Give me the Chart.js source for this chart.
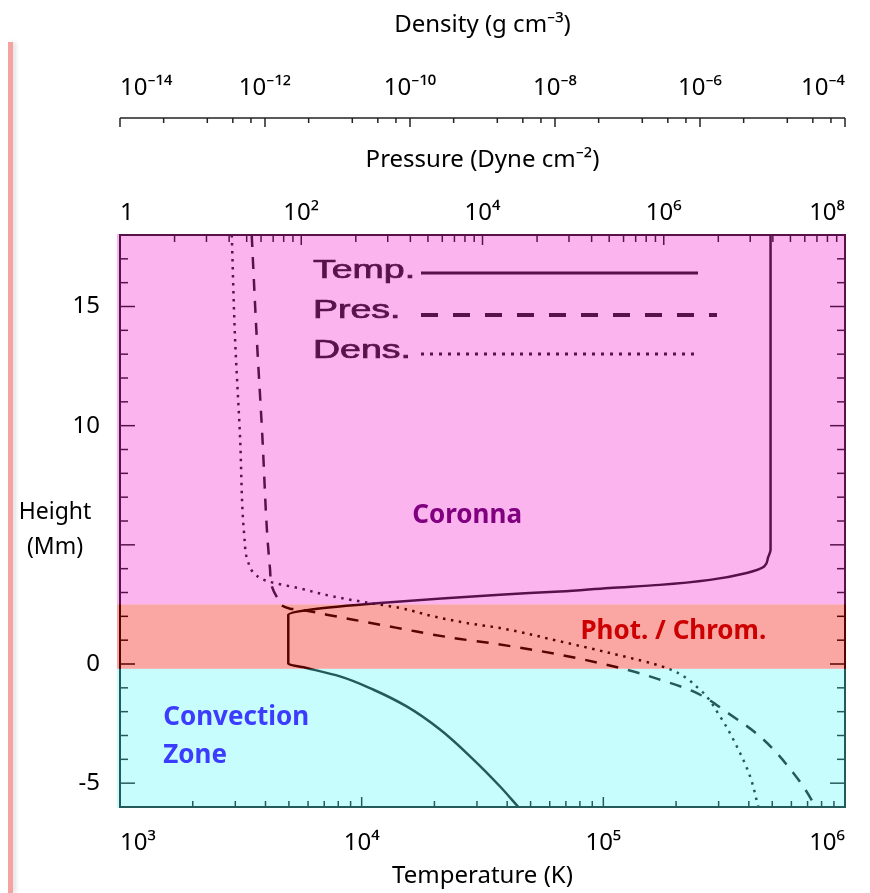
<!DOCTYPE html>
<html>
<head>
<meta charset="utf-8">
<title>Solar atmosphere profile</title>
<script src="https://cdn.jsdelivr.net/npm/chart.js@4.4.1/dist/chart.umd.min.js"></script>
<style>
  html, body { margin: 0; padding: 0; background: #fff; }
  #wrap { position: relative; width: 870px; height: 893px; }
  #edge { position: absolute; left: 8px; top: 42px; bottom: 0; width: 5px; background: #f5a3a1;
          box-shadow: 3px 0 4px rgba(0, 0, 0, 0.12); }
</style>
</head>
<body>
<div id="wrap">
  <canvas id="solarChart"></canvas>
  <div id="edge"></div>
</div>
<script>
// Curves: height in Mm, values in K, dyne cm^-2, g cm^-3
const tempHeights = [-6, -5.13, -4.01, -2.75, -1.78, -1.08, -0.52, -0.17, 0.01, 2.07, 2.28, 2.56,
                     2.91, 3.04, 3.19, 3.32, 3.53, 3.82, 4.09, 4.46, 4.79, 18];
const tempValues = [44500, 37300, 29000, 21100, 15350, 11200, 8130, 5920, 4970, 4970, 6110, 11900,
                    37300, 66100, 106000, 171000, 276000, 392000, 463000, 480000, 492000, 492000];

const presHeights = [18, 13.77, 9.57, 5.38, 4.0, 3.28, 2.70, 2.32, 2.28, 2.07, 1.86, 1.65, 1.44,
                     1.23, 1.05, 0.88, 0.39, -0.24, -0.66, -1.15, -2.05, -3.04, -4.57, -5.83, -6];
const presValues = [28.4, 32.2, 37.2, 42.2, 45.2, 47.2, 55.8, 75.2, 96.8, 191, 375, 740, 1455,
                    2864, 5650, 12100, 71600, 390000, 912000, 2.12e6, 5.08e6, 1.153e7, 2.69e7, 4.47e7, 4.67e7];

const densHeights = [18, 13.77, 9.57, 5.38, 4.29, 3.70, 3.47, 3.17, 2.83, 2.58, 2.35, 2.0, 1.72,
                     1.51, 0.95, 0.46, -0.17, -1.08, -2.20, -3.45, -4.71, -6];
const densValues = [3.48e-13, 3.85e-13, 4.52e-13, 5.18e-13, 5.83e-13, 7.69e-13, 1.10e-12, 3.04e-12,
                    8.75e-12, 2.53e-11, 7.28e-11, 2.09e-10, 6.05e-10, 1.74e-9, 1.17e-8, 5.74e-8,
                    3.48e-7, 1.0e-6, 1.89e-6, 3.21e-6, 4.90e-6, 6.37e-6];

// Tick labels
const tempTicks = [1e3, 1e4, 1e5, 1e6];
const presTicks = [1, 1e2, 1e4, 1e6, 1e8];
const densTicks = [1e-14, 1e-12, 1e-10, 1e-8, 1e-6, 1e-4];
const heightTicks = [-5, 0, 10, 15];

// Layer boundaries (Mm): convection zone / photosphere-chromosphere / corona
const bandEdges = [-6, -0.2, 2.5, 18];

const SUP = { '-': '\u207B', '0': '\u2070', '1': '\u00B9', '2': '\u00B2', '3': '\u00B3', '4': '\u2074',
              '5': '\u2075', '6': '\u2076', '7': '\u2077', '8': '\u2078', '9': '\u2079' };

function powLabel(v) {
    const e = Math.round(Math.log10(v));
    if (e === 0) return '1';
    return '10' + String(e).split('').map(c => SUP[c]).join('');
}

function toPoints(xs, ys) {
    return xs.map((x, i) => ({ x: x, y: ys[i] }));
}

function fixTicks(values) {
    return scale => { scale.ticks = values.map(v => ({ value: v })); };
}

Chart.defaults.font.family = "'Noto Sans', sans-serif";
Chart.defaults.color = '#000';

// frame, inner ticks, legend, tinted layers and layer names
const solarDecor = {
    id: 'solarDecor',
    afterDatasetsDraw(chart) {
        const { ctx, chartArea: a, scales } = chart;
        const yS = scales.y, tS = scales.xT, pS = scales.xP;
        ctx.save();
        ctx.strokeStyle = '#000';
        ctx.lineWidth = 2;
        ctx.strokeRect(a.left, a.top, a.right - a.left, a.bottom - a.top);

        ctx.lineWidth = 1.5;
        const line = (x0, y0, x1, y1) => {
            ctx.beginPath(); ctx.moveTo(x0, y0); ctx.lineTo(x1, y1); ctx.stroke();
        };

        // height ticks, both sides
        for (let h = -6; h <= 18; h++) {
            const y = yS.getPixelForValue(h);
            const len = h % 5 === 0 ? 15 : 8;
            line(a.left, y, a.left + len, y);
            line(a.right, y, a.right - len, y);
        }
        // temperature ticks, bottom
        tempTicks.forEach(v => {
            const x = tS.getPixelForValue(v);
            line(x, a.bottom, x, a.bottom - 10);
        });
        for (let e = 3; e < 6; e++) {
            for (let k = 2; k <= 9; k++) {
                const x = tS.getPixelForValue(k * Math.pow(10, e));
                line(x, a.bottom, x, a.bottom - 6);
            }
        }
        // pressure ticks, top
        presTicks.forEach((v, i) => {
            const x = pS.getPixelForValue(v);
            line(x, a.top, x, a.top + 10);
            if (i < presTicks.length - 1) {
                for (let k = 2; k <= 9; k++) {
                    const xm = pS.getPixelForValue(v * k * k);
                    line(xm, a.top, xm, a.top + 7);
                }
            }
        });

        // legend: label, then line sample
        const items = [
            { ds: 0, lineY: 38, baseY: 43, x1: 578, dash: [], width: 3 },
            { ds: 1, lineY: 80, baseY: 83, x1: 597, dash: [17, 15], width: 4 },
            { ds: 2, lineY: 119, baseY: 123, x1: 575, dash: [3, 6], width: 3 }
        ];
        items.forEach(it => {
            const label = chart.data.datasets[it.ds].label;
            ctx.save();
            ctx.translate(a.left + 193, a.top + it.baseY);
            ctx.scale(1.5, 1);
            ctx.fillStyle = '#000';
            ctx.strokeStyle = '#000';
            ctx.lineWidth = 0.7;
            ctx.font = "25px 'Liberation Sans', Arial, sans-serif";
            ctx.textAlign = 'left';
            ctx.textBaseline = 'alphabetic';
            ctx.fillText(label, 0, 0);
            ctx.strokeText(label, 0, 0);
            ctx.restore();
            ctx.save();
            ctx.setLineDash(it.dash);
            ctx.lineWidth = it.width;
            line(a.left + 301, a.top + it.lineY, a.left + it.x1, a.top + it.lineY);
            ctx.restore();
        });

        // tinted layers laid over everything inside the frame
        const tints = ['rgba(102, 249, 249, 0.36)', 'rgba(241, 8, 0, 0.36)', 'rgba(247, 47, 208, 0.36)'];
        for (let i = 0; i < tints.length; i++) {
            const yTop = yS.getPixelForValue(bandEdges[i + 1]);
            const yBot = yS.getPixelForValue(bandEdges[i]);
            ctx.fillStyle = tints[i];
            ctx.fillRect(a.left - 3, yTop - (i === 2 ? 1 : 0), a.right - a.left + 4,
                         yBot - yTop + (i === 0 ? 1 : 0) + (i === 2 ? 1 : 0));
        }

        // layer names
        const names = [
            { lines: ['Coronna'], t: 16200, h: 5.92, color: '#800080' },
            { lines: ['Phot. / Chrom.'], t: 80400, h: 1.06, color: '#cc0000' },
            { lines: ['Convection', 'Zone'], t: 1510, h: -2.55, color: '#3c3cff' }
        ];
        ctx.font = "bold 26px 'Noto Sans', sans-serif";
        ctx.textAlign = 'left';
        ctx.textBaseline = 'alphabetic';
        names.forEach(n => {
            ctx.fillStyle = n.color;
            const x = tS.getPixelForValue(n.t);
            const y = yS.getPixelForValue(n.h);
            n.lines.forEach((s, j) => ctx.fillText(s, x, y + j * 38));
        });
        ctx.restore();
    },
    afterDraw(chart) {
        const { ctx, scales } = chart;
        const dS = scales.xD, yS = scales.y;
        ctx.save();
        // density axis line with ticks hanging down
        ctx.strokeStyle = '#222';
        ctx.lineWidth = 1.5;
        const y0 = dS.bottom;
        const xa = dS.getPixelForValue(densTicks[0]);
        const xb = dS.getPixelForValue(densTicks[densTicks.length - 1]);
        ctx.beginPath(); ctx.moveTo(xa, y0); ctx.lineTo(xb, y0); ctx.stroke();
        densTicks.forEach((v, i) => {
            const x = dS.getPixelForValue(v);
            ctx.beginPath(); ctx.moveTo(x, y0); ctx.lineTo(x, y0 + 9); ctx.stroke();
            if (i < densTicks.length - 1) {
                [2, 4, 6, 8].forEach(k => {
                    const xm = dS.getPixelForValue(v * k * k);
                    ctx.beginPath(); ctx.moveTo(xm, y0); ctx.lineTo(xm, y0 + 5); ctx.stroke();
                });
            }
        });
        // height axis title, written flat
        ctx.fillStyle = '#000';
        ctx.font = "23px 'Noto Sans', sans-serif";
        ctx.textAlign = 'center';
        ctx.textBaseline = 'middle';
        const yc = yS.getPixelForValue(5.65);
        ctx.fillText('Height', 55, yc - 17);
        ctx.fillText('(Mm)', 55, yc + 18);
        ctx.restore();
    }
};

const tickFont = { size: 24 };
const titleFont = { size: 24 };

new Chart(document.getElementById('solarChart'), {
    type: 'scatter',
    data: {
        datasets: [
            {
                label: 'Temp.',
                data: toPoints(tempValues, tempHeights),
                xAxisID: 'xT', yAxisID: 'y',
                showLine: true, borderColor: '#000', borderWidth: 2.5, pointRadius: 0
            },
            {
                label: 'Pres.',
                data: toPoints(presValues, presHeights),
                xAxisID: 'xP', yAxisID: 'y',
                showLine: true, borderColor: '#000', borderWidth: 2.5, borderDash: [12, 10], pointRadius: 0
            },
            {
                label: 'Dens.',
                data: toPoints(densValues, densHeights),
                xAxisID: 'xD', yAxisID: 'y',
                showLine: true, borderColor: '#000', borderWidth: 2.5, borderDash: [2.5, 5.5], pointRadius: 0
            }
        ]
    },
    options: {
        indexAxis: 'y',
        responsive: true,
        maintainAspectRatio: false,
        animation: false,
        events: [],
        elements: { line: { cubicInterpolationMode: 'monotone' } },
        layout: { padding: { left: 0, right: 25, top: 0, bottom: 0 } },
        plugins: { legend: { display: false }, tooltip: { enabled: false } },
        scales: {
            xT: {
                type: 'logarithmic', position: 'bottom', min: 1e3, max: 1e6,
                afterBuildTicks: fixTicks(tempTicks),
                afterFit: s => { s.height = 86; },
                grid: { display: false, drawTicks: false }, border: { display: false },
                ticks: { callback: powLabel, font: tickFont, padding: 21.6, align: 'inner',
                         autoSkip: false, maxRotation: 0, minRotation: 0 },
                title: { display: true, text: 'Temperature (K)', font: titleFont, padding: { top: 0, bottom: 2.8 } }
            },
            xP: {
                type: 'logarithmic', position: 'top', min: 1, max: 1e8, weight: 0,
                afterBuildTicks: fixTicks(presTicks),
                afterFit: s => { s.height = 117; },
                grid: { display: false, drawTicks: false }, border: { display: false },
                ticks: { callback: powLabel, font: tickFont, padding: 7.6, align: 'inner',
                         autoSkip: false, maxRotation: 0, minRotation: 0 },
                title: { display: true, text: 'Pressure (Dyne cm\u207B\u00B2)', font: titleFont, padding: { top: 27.8, bottom: 0 } }
            },
            xD: {
                type: 'logarithmic', position: 'top', min: 1e-14, max: 1e-4, weight: 10,
                afterBuildTicks: fixTicks(densTicks),
                afterFit: s => { s.height = 118; },
                grid: { display: false, drawTicks: false }, border: { display: false },
                ticks: { callback: powLabel, font: tickFont, padding: 15.6, align: 'inner',
                         autoSkip: false, maxRotation: 0, minRotation: 0 },
                title: { display: true, text: 'Density (g cm\u207B\u00B3)', font: titleFont, padding: { top: 10.8, bottom: 0 } }
            },
            y: {
                type: 'linear', position: 'left', min: -6, max: 18,
                afterBuildTicks: fixTicks(heightTicks),
                afterFit: s => { s.width = 120; },
                grid: { display: false, drawTicks: false }, border: { display: false },
                ticks: { font: tickFont, padding: 20, autoSkip: false }
            }
        }
    },
    plugins: [solarDecor]
});
</script>
</body>
</html>
